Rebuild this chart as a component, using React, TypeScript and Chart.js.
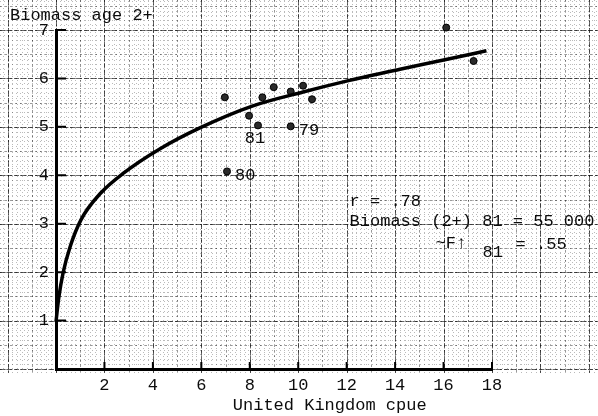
import { useEffect, useRef } from 'react';
import { Chart, registerables } from 'chart.js';

Chart.register(...registerables);

// Observed stock points: UK catch per unit effort vs. biomass of age 2+ fish
const cpue = [6.97, 7.97, 8.34, 8.52, 8.99, 9.69, 9.69, 10.2, 10.57, 7.06, 16.11, 17.24];
const biomass = [5.61, 5.23, 5.03, 5.61, 5.82, 5.73, 5.01, 5.85, 5.57, 4.08, 7.05, 6.36];
const yearTags = ['', '', '81', '', '', '', '79', '', '', '80', '', ''];
const tagSide = ['', '', 'below', '', '', '', 'right', '', '', 'right', '', ''];

// Hand-fitted relationship
const fitCpue = [0, 0.04, 0.12, 0.29, 0.58, 1.03, 1.86, 2.8, 4.3, 5.94, 8.1, 10.2, 12.12, 14.2, 16.1, 17.77];
const fitBiomass = [0.97, 1.16, 1.49, 1.98, 2.52, 3.08, 3.64, 4.05, 4.55, 4.98, 5.43, 5.72, 5.96, 6.19, 6.39, 6.57];

const xTickValues = [2, 4, 6, 8, 10, 12, 14, 16, 18];
const yTickValues = [1, 2, 3, 4, 5, 6, 7];

const yAxisTitle = 'Biomass age 2+';
const xAxisTitle = 'United Kingdom cpue';
const noteR = 'r = .78';
const noteBiomass = 'Biomass (2+) 81 = 55 000';
const noteF = '~F\u2191';
const noteFSub = '81';
const noteFValue = '= .55';

const FONT = '"Liberation Mono", "DejaVu Sans Mono", monospace';
const INK = '#0c0c0c';

const paperGrid = {
  id: 'paperGrid',
  beforeDraw(chart: any) {
    const { ctx, width, height } = chart;
    const xs = chart.scales.x;
    const ys = chart.scales.y;
    ctx.save();
    ctx.fillStyle = '#ffffff';
    ctx.fillRect(0, 0, width, height);
    const bottom = ys.getPixelForValue(0) + 4;
    ctx.beginPath();
    ctx.rect(0, 0, width, bottom);
    ctx.clip();
    const layer = (stepX: number, stepY: number, color: string, dash: number[], lw: number) => {
      ctx.strokeStyle = color;
      ctx.setLineDash(dash);
      ctx.lineWidth = lw;
      ctx.beginPath();
      const nx = Math.round(30 / stepX);
      for (let i = -Math.round(4 / stepX); i <= nx; i++) {
        const p = Math.round(xs.getPixelForValue(i * stepX)) + 0.5;
        ctx.moveTo(p, 0);
        ctx.lineTo(p, bottom);
      }
      const ny = Math.round(9 / stepY);
      for (let j = -1; j <= ny; j++) {
        const p = Math.round(ys.getPixelForValue(j * stepY)) + 0.5;
        ctx.moveTo(0, p);
        ctx.lineTo(width, p);
      }
      ctx.stroke();
    };
    layer(0.2, 0.1, 'rgba(0,0,0,0.27)', [1, 3], 1);
    layer(1, 0.5, 'rgba(0,0,0,0.4)', [2, 3], 1);
    layer(2, 1, 'rgba(0,0,0,0.6)', [5, 2], 1);
    ctx.restore();
  },
};

const axisMarks = {
  id: 'axisMarks',
  afterDraw(chart: any) {
    const { ctx, chartArea } = chart;
    const xs = chart.scales.x;
    const ys = chart.scales.y;
    ctx.save();
    ctx.strokeStyle = '#000';
    ctx.lineWidth = 2;
    ctx.beginPath();
    yTickValues.forEach((v) => {
      const p = ys.getPixelForValue(v);
      ctx.moveTo(chartArea.left, p);
      ctx.lineTo(chartArea.left + 10, p);
    });
    xTickValues.forEach((v) => {
      const p = xs.getPixelForValue(v);
      ctx.moveTo(p, chartArea.bottom);
      ctx.lineTo(p, chartArea.bottom - 7);
    });
    ctx.stroke();

    ctx.fillStyle = INK;
    ctx.font = `17px ${FONT}`;
    ctx.textBaseline = 'middle';

    // Year tags next to selected points
    const meta = chart.getDatasetMeta(1);
    yearTags.forEach((tag, i) => {
      if (!tag) return;
      const el = meta.data[i];
      if (tagSide[i] === 'below') {
        ctx.textAlign = 'center';
        ctx.fillText(tag, el.x - 3, el.y + 13);
      } else {
        ctx.textAlign = 'left';
        ctx.fillText(tag, el.x + 8, el.y + 4);
      }
    });

    // Axis titles
    ctx.textAlign = 'left';
    ctx.fillText(yAxisTitle, chartArea.left - 46, chartArea.top - 15);
    ctx.textAlign = 'center';
    ctx.fillText(xAxisTitle, xs.getPixelForValue(11.3), chartArea.bottom + 36);

    // Fit statistics
    ctx.textAlign = 'left';
    const left = xs.getPixelForValue(12.12);
    ctx.fillText(noteR, left, ys.getPixelForValue(3.45));
    ctx.fillText(noteBiomass, left, ys.getPixelForValue(3.04));
    const row3 = ys.getPixelForValue(2.6);
    ctx.fillText(noteF, left + 86, row3);
    ctx.fillText(noteFSub, left + 133, row3 + 9);
    ctx.fillText(noteFValue, left + 166, row3 + 1);
    ctx.restore();
  },
};

export default function App() {
  const canvasRef = useRef<HTMLCanvasElement | null>(null);

  useEffect(() => {
    document.body.style.margin = '0';
    const canvas = canvasRef.current;
    if (!canvas) return;
    const tickFont = { family: FONT, size: 17 };
    const chart = new Chart(canvas, {
      type: 'scatter',
      data: {
        datasets: [
          {
            type: 'line',
            data: fitCpue.map((v, i) => ({ x: v, y: fitBiomass[i] })),
            borderColor: '#000',
            borderWidth: 3.5,
            pointRadius: 0,
            fill: false,
            cubicInterpolationMode: 'monotone',
            clip: false,
          } as any,
          {
            data: cpue.map((v, i) => ({ x: v, y: biomass[i] })),
            backgroundColor: '#2a2a2a',
            borderColor: '#000',
            borderWidth: 1,
            pointRadius: 3.5,
            clip: false,
          } as any,
        ],
      },
      options: {
        animation: false,
        responsive: false,
        maintainAspectRatio: false,
        layout: { padding: { top: 30, right: 106, left: 0, bottom: 0 } },
        plugins: { legend: { display: false }, tooltip: { enabled: false } },
        scales: {
          x: {
            type: 'linear',
            min: 0,
            max: 18,
            afterFit: (s: any) => { s.height = 47; },
            ticks: {
              stepSize: 2,
              padding: 6,
              maxRotation: 0,
              font: tickFont,
              color: INK,
              callback: (v: any) => (v === 0 ? '' : String(v)),
            },
            grid: { display: false, drawTicks: false },
            border: { display: true, color: '#000', width: 3 },
          },
          y: {
            type: 'linear',
            min: 0,
            max: 7,
            afterFit: (s: any) => { s.width = 56; },
            ticks: {
              stepSize: 1,
              padding: 7,
              font: tickFont,
              color: INK,
              callback: (v: any) => (v === 0 ? '' : String(v)),
            },
            grid: { display: false, drawTicks: false },
            border: { display: true, color: '#000', width: 3 },
          },
        },
      },
      plugins: [paperGrid, axisMarks],
    });
    return () => chart.destroy();
  }, []);

  return (
    <div style={{ width: 598, height: 416 }}>
      <canvas ref={canvasRef} width={598} height={416} style={{ display: 'block' }} />
    </div>
  );
}
